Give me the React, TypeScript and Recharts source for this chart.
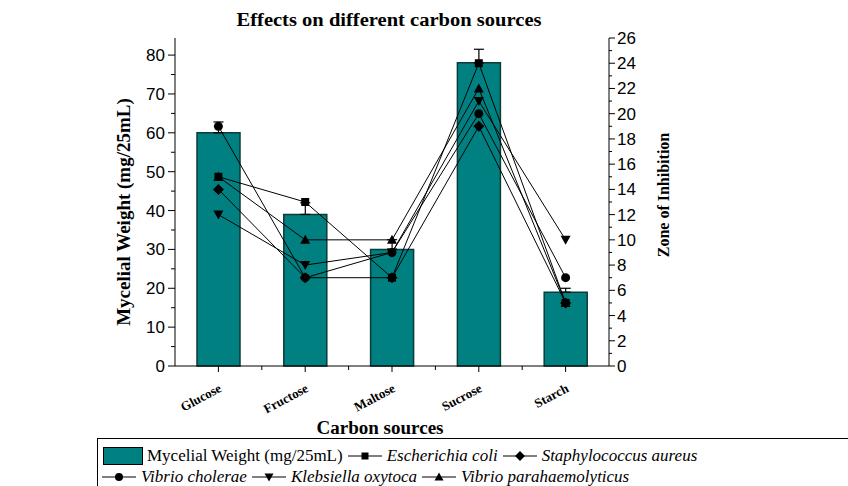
import { Bar, ComposedChart, ErrorBar, Line, XAxis, YAxis } from 'recharts'

const categories = ['Glucose', 'Fructose', 'Maltose', 'Sucrose', 'Starch']
const mycelialWeight = [60, 39, 30, 78, 19]
const mycelialErr = [2.8, 3, 2.5, 3.5, 1]
const eColi = [15, 13, 7, 24, 5]
const sAureus = [14, 7, 7, 19, 5]
const vCholerae = [19, 7, 9, 20, 7]
const kOxytoca = [12, 8, 9, 21, 10]
const vPara = [15, 10, 10, 22, 5]
const leftTicks = [0, 5, 10, 15, 20, 25, 30, 35, 40, 45, 50, 55, 60, 65, 70, 75, 80]
const rightTicks = Array.from({ length: 27 }, (_, i) => i)

const data = categories.map((name, i) => ({
  name,
  weight: mycelialWeight[i],
  err: [0, mycelialErr[i]],
  eColi: eColi[i],
  sAureus: sAureus[i],
  vCholerae: vCholerae[i],
  kOxytoca: kOxytoca[i],
  vPara: vPara[i],
}))

const SERIF = '"Liberation Serif", "Times New Roman", serif'
const SANS = '"Liberation Sans", Arial, sans-serif'
const TEAL = '#008080'
const PLOT_L = 175
const PLOT_R = 609
const PLOT_B = 366

type Shape = 'square' | 'diamond' | 'circle' | 'down' | 'up'

function Marker({ cx, cy, shape, s = 4.5 }: { cx: number; cy: number; shape: Shape; s?: number }) {
  if (shape === 'square') return <rect x={cx - s + 0.5} y={cy - s + 0.5} width={2 * s - 1} height={2 * s - 1} fill="#000" />
  if (shape === 'circle') return <circle cx={cx} cy={cy} r={s} fill="#000" />
  if (shape === 'diamond')
    return <polygon points={`${cx},${cy - s - 1} ${cx + s + 1},${cy} ${cx},${cy + s + 1} ${cx - s - 1},${cy}`} fill="#000" />
  if (shape === 'down')
    return <polygon points={`${cx - s - 0.5},${cy - s + 0.5} ${cx + s + 0.5},${cy - s + 0.5} ${cx},${cy + s + 0.5}`} fill="#000" />
  return <polygon points={`${cx - s - 0.5},${cy + s - 0.5} ${cx + s + 0.5},${cy + s - 0.5} ${cx},${cy - s - 0.5}`} fill="#000" />
}

const dotFor = (shape: Shape, id: string) => (p: any) =>
  p.cx == null ? <g key={`${id}-${p.index}`} /> : <Marker key={`${id}-${p.index}`} cx={p.cx} cy={p.cy} shape={shape} />

function LeftTick({ y, payload }: any) {
  const major = payload.value % 10 === 0
  return (
    <g>
      <line x1={PLOT_L} x2={major ? PLOT_L - 7 : PLOT_L - 4} y1={y} y2={y} stroke="#000" />
      {major && (
        <text x={PLOT_L - 10} y={y + 6} textAnchor="end" fontSize={17} fontFamily={SANS} fill="#000">
          {payload.value}
        </text>
      )}
    </g>
  )
}

function RightTick({ y, payload }: any) {
  const major = payload.value % 2 === 0
  return (
    <g>
      <line x1={PLOT_R} x2={major ? PLOT_R + 6 : PLOT_R + 3} y1={y} y2={y} stroke="#000" />
      {major && (
        <text x={PLOT_R + 8} y={y + 6} textAnchor="start" fontSize={17} fontFamily={SANS} fill="#000">
          {payload.value}
        </text>
      )}
    </g>
  )
}

function CatTick({ x, index, payload }: any) {
  const half = (PLOT_R - PLOT_L) / categories.length / 2
  return (
    <g>
      <line x1={x} x2={x} y1={PLOT_B} y2={PLOT_B + 6} stroke="#000" />
      {index < categories.length - 1 && <line x1={x + half} x2={x + half} y1={PLOT_B} y2={PLOT_B + 4} stroke="#000" />}
      <text
        x={x + 4}
        y={PLOT_B + 25}
        textAnchor="end"
        fontSize={13}
        fontWeight="bold"
        fontFamily={SERIF}
        fill="#000"
        transform={`rotate(-28, ${x + 4}, ${PLOT_B + 25})`}
      >
        {payload.value}
      </text>
    </g>
  )
}

function LegendSym({ shape }: { shape: Shape }) {
  return (
    <svg width={34} height={14} style={{ display: 'inline-block', verticalAlign: 'middle', margin: '0 5px' }}>
      <line x1={0} x2={34} y1={7} y2={7} stroke="#000" strokeWidth={1} />
      <Marker cx={17} cy={7} shape={shape} s={4} />
    </svg>
  )
}

const legendRow: React.CSSProperties = {
  position: 'absolute',
  display: 'flex',
  alignItems: 'center',
  whiteSpace: 'nowrap',
  fontFamily: SERIF,
  fontSize: 17,
  lineHeight: '19px',
  color: '#000',
}

export default function App() {
  return (
    <div style={{ position: 'absolute', left: 0, top: 0, width: 848, height: 486, background: '#fff', overflow: 'hidden' }}>
      <ComposedChart width={848} height={486} data={data} margin={{ top: 38, right: 0, bottom: 0, left: 0 }}>
        <XAxis
          dataKey="name"
          height={120}
          axisLine={{ stroke: '#000' }}
          tickLine={false}
          tick={<CatTick />}
          interval={0}
        />
        <YAxis
          yAxisId="left"
          orientation="left"
          width={PLOT_L}
          domain={[0, 84.4]}
          ticks={leftTicks}
          interval={0}
          axisLine={{ stroke: '#000' }}
          tickLine={false}
          tick={<LeftTick />}
        />
        <YAxis
          yAxisId="right"
          orientation="right"
          width={848 - PLOT_R}
          domain={[0, 26]}
          ticks={rightTicks}
          interval={0}
          axisLine={{ stroke: '#000' }}
          tickLine={false}
          tick={<RightTick />}
        />
        <Bar yAxisId="left" dataKey="weight" fill={TEAL} stroke="#0b3b3b" strokeWidth={1.5} barSize={43} isAnimationActive={false}>
          <ErrorBar dataKey="err" width={5} stroke="#000" strokeWidth={1.2} direction="y" />
        </Bar>
        <Line yAxisId="right" dataKey="eColi" stroke="#000" strokeWidth={1} dot={dotFor('square', 'ec')} activeDot={false} isAnimationActive={false} />
        <Line yAxisId="right" dataKey="sAureus" stroke="#000" strokeWidth={1} dot={dotFor('diamond', 'sa')} activeDot={false} isAnimationActive={false} />
        <Line yAxisId="right" dataKey="vCholerae" stroke="#000" strokeWidth={1} dot={dotFor('circle', 'vc')} activeDot={false} isAnimationActive={false} />
        <Line yAxisId="right" dataKey="kOxytoca" stroke="#000" strokeWidth={1} dot={dotFor('down', 'ko')} activeDot={false} isAnimationActive={false} />
        <Line yAxisId="right" dataKey="vPara" stroke="#000" strokeWidth={1} dot={dotFor('up', 'vp')} activeDot={false} isAnimationActive={false} />
      </ComposedChart>

      <svg width={848} height={486} style={{ position: 'absolute', left: 0, top: 0, pointerEvents: 'none' }}>
        <text x={389} y={26} textAnchor="middle" fontSize={18} fontWeight="bold" fontFamily={SERIF} textLength={305} lengthAdjust="spacingAndGlyphs">
          Effects on different carbon sources
        </text>
        <text x={380} y={434} textAnchor="middle" fontSize={18} fontWeight="bold" fontFamily={SERIF} textLength={127} lengthAdjust="spacingAndGlyphs">
          Carbon sources
        </text>
        <text
          x={130}
          y={212}
          textAnchor="middle"
          fontSize={19}
          fontWeight="bold"
          fontFamily={SERIF}
          transform="rotate(-90, 130, 212)"
        >
          Mycelial Weight (mg/25mL)
        </text>
        <text
          x={669}
          y={195}
          textAnchor="middle"
          fontSize={16}
          fontWeight="bold"
          fontFamily={SERIF}
          transform="rotate(-90, 669, 195)"
        >
          Zone of Inhibition
        </text>
      </svg>

      <div
        style={{
          position: 'absolute',
          left: 97,
          top: 438,
          width: 760,
          height: 60,
          borderTop: '1px solid #000',
          borderLeft: '1px solid #000',
        }}
      />
      <div style={{ ...legendRow, left: 103, top: 446 }}>
        <span style={{ display: 'inline-block', width: 38, height: 16, background: TEAL, border: '1px solid #000', marginRight: 4 }} />
        <span>Mycelial Weight (mg/25mL)</span>
        <LegendSym shape="square" />
        <i>Escherichia coli</i>
        <LegendSym shape="diamond" />
        <i>Staphylococcus aureus</i>
      </div>
      <div style={{ ...legendRow, left: 97, top: 467 }}>
        <LegendSym shape="circle" />
        <i>Vibrio cholerae</i>
        <LegendSym shape="down" />
        <i>Klebsiella oxytoca</i>
        <LegendSym shape="up" />
        <i>Vibrio parahaemolyticus</i>
      </div>
    </div>
  )
}
